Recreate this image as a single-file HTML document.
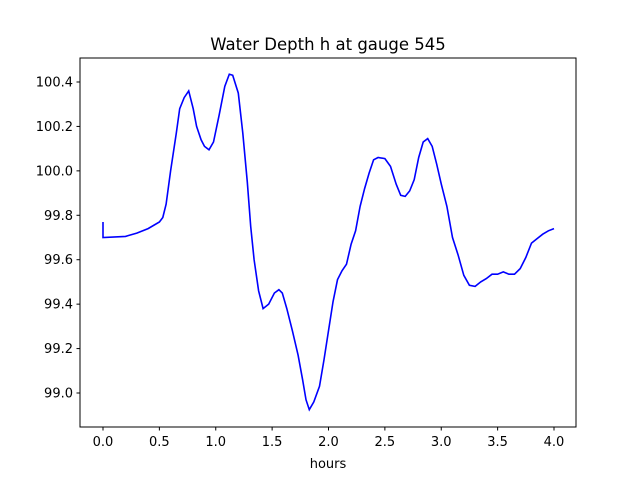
<!DOCTYPE html>
<html><head><meta charset="utf-8"><style>
body{margin:0;background:#fff}
svg text{font-family:"DejaVu Sans","Liberation Sans",sans-serif;fill:#000}
</style></head><body>
<svg width="640" height="480">
<rect x="0" y="0" width="640" height="480" fill="#fff"/>
<text x="328" y="50" font-size="16.5" text-anchor="middle">Water Depth h at gauge 545</text>
<g id="xt"></g>
<g id="yt"></g>
<path id="line" fill="none" stroke="#0000ff" stroke-width="1.6"/>
<rect x="80" y="58" width="496" height="369" fill="none" stroke="#000" stroke-width="1"/>
<text x="328" y="468" font-size="13" text-anchor="middle">hours</text>
</svg>
<script>
const hours=[0,0,0.2,0.3,0.4,0.5,0.53,0.56,0.6,0.65,0.68,0.72,0.76,0.8,0.83,0.87,0.9,0.94,0.98,1.03,1.08,1.12,1.15,1.2,1.24,1.28,1.31,1.34,1.38,1.42,1.47,1.52,1.56,1.59,1.63,1.68,1.73,1.77,1.8,1.83,1.87,1.92,1.96,2.0,2.04,2.08,2.12,2.16,2.2,2.24,2.28,2.32,2.36,2.4,2.44,2.5,2.55,2.6,2.64,2.68,2.72,2.76,2.8,2.84,2.88,2.92,2.96,3.0,3.05,3.1,3.15,3.2,3.25,3.3,3.35,3.4,3.45,3.5,3.55,3.6,3.65,3.7,3.75,3.8,3.85,3.9,3.95,4.0];
const depth=[99.77,99.70,99.705,99.72,99.74,99.77,99.79,99.85,100.0,100.17,100.28,100.33,100.36,100.28,100.2,100.14,100.11,100.095,100.13,100.25,100.38,100.435,100.43,100.35,100.17,99.95,99.75,99.6,99.46,99.38,99.40,99.45,99.465,99.45,99.38,99.28,99.17,99.06,98.97,98.925,98.96,99.03,99.15,99.28,99.41,99.51,99.55,99.58,99.67,99.73,99.84,99.92,99.99,100.05,100.06,100.055,100.02,99.94,99.89,99.885,99.91,99.96,100.06,100.13,100.145,100.11,100.03,99.94,99.84,99.70,99.62,99.53,99.485,99.48,99.50,99.515,99.535,99.535,99.545,99.535,99.535,99.56,99.61,99.675,99.695,99.715,99.73,99.74];
const xTicks=[0,0.5,1,1.5,2,2.5,3,3.5,4];
const xTickLabels=["0.0","0.5","1.0","1.5","2.0","2.5","3.0","3.5","4.0"];
const yTicks=[99.0,99.2,99.4,99.6,99.8,100.0,100.2,100.4];
const yTickLabels=["99.0","99.2","99.4","99.6","99.8","100.0","100.2","100.4"];
const X=v=>103+v*112.75;
const Y=v=>393-(v-99.0)*222.14;
const NS="http://www.w3.org/2000/svg";
const xt=document.getElementById('xt'),yt=document.getElementById('yt');
xTicks.forEach((t,i)=>{
 const l=document.createElementNS(NS,'line');
 l.setAttribute('x1',X(t));l.setAttribute('x2',X(t));l.setAttribute('y1',427);l.setAttribute('y2',430.5);l.setAttribute('stroke','#000');
 
 
 xt.appendChild(l);
 const s=document.createElementNS(NS,'text');
 s.setAttribute('x',X(t));s.setAttribute('y',446);s.setAttribute('font-size','13');s.setAttribute('text-anchor','middle');
 s.textContent=xTickLabels[i];
 
 
 xt.appendChild(s);
});
yTicks.forEach((t,i)=>{
 const l=document.createElementNS(NS,'line');
 l.setAttribute('x1',76.5);l.setAttribute('x2',80);l.setAttribute('y1',Y(t));l.setAttribute('y2',Y(t));l.setAttribute('stroke','#000');
 
 
 yt.appendChild(l);
 const s=document.createElementNS(NS,'text');
 s.setAttribute('x',73);s.setAttribute('y',Y(t)+4.5);s.setAttribute('font-size','13');s.setAttribute('text-anchor','end');
 s.textContent=yTickLabels[i];
 
 
 yt.appendChild(s);
});
document.getElementById('line').setAttribute('d',hours.map((h,i)=>(i?'L':'M')+X(h).toFixed(1)+','+Y(depth[i]).toFixed(1)).join(' '));
</script>
</body></html>
